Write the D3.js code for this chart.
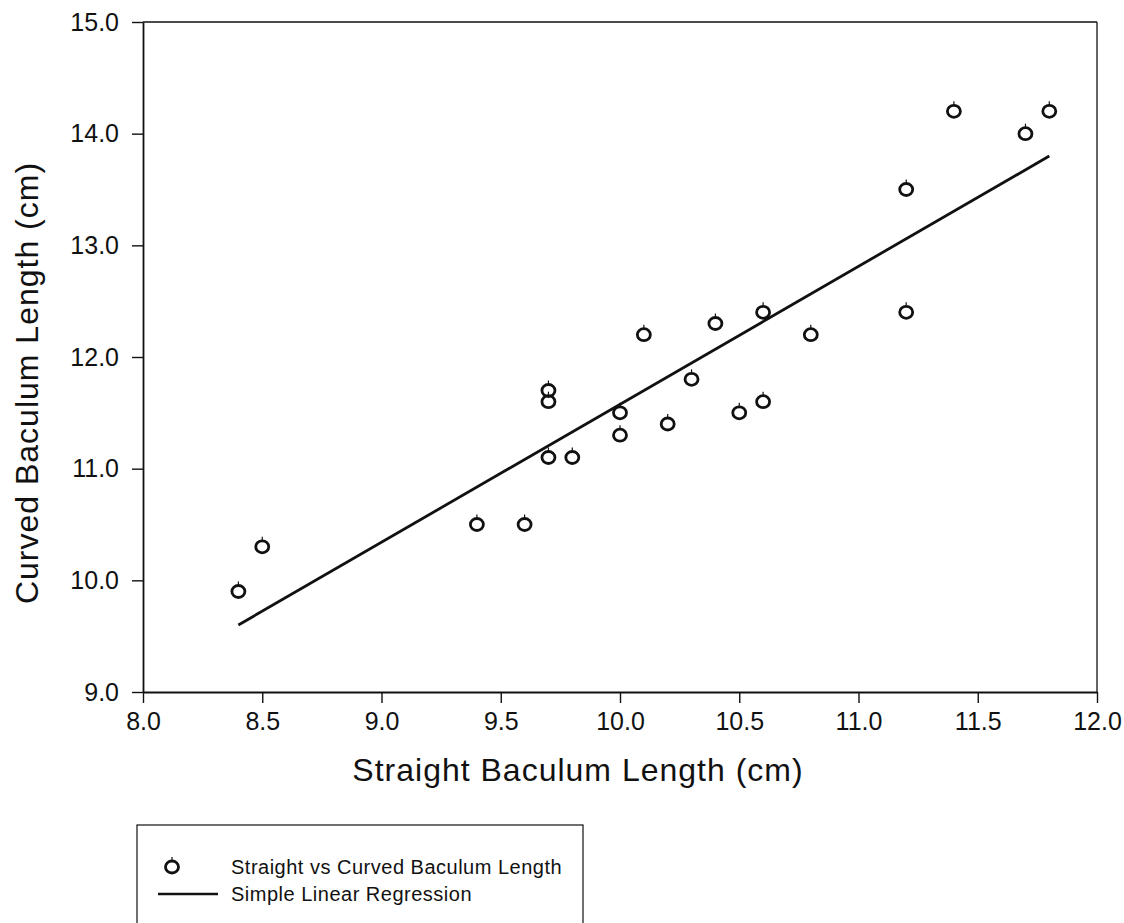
<!DOCTYPE html>
<html>
<head>
<meta charset="utf-8">
<script src="https://cdn.jsdelivr.net/npm/d3@7"></script>
<style>
  html, body { margin: 0; padding: 0; background: #fff; }
  svg { display: block; }
  text { font-family: "Liberation Sans", Arial, sans-serif; fill: #111; }
</style>
</head>
<body>
<svg id="chart" width="1124" height="923"></svg>
<script>
// ---- data ----
const straightLength = [8.4, 8.5, 9.4, 9.6, 9.7, 9.7, 9.7, 9.8, 10.0, 10.0, 10.1, 10.2, 10.3, 10.4, 10.5, 10.6, 10.6, 10.8, 11.2, 11.2, 11.4, 11.7, 11.8];
const curvedLength   = [9.9, 10.3, 10.5, 10.5, 11.7, 11.6, 11.1, 11.1, 11.5, 11.3, 12.2, 11.4, 11.8, 12.3, 11.5, 12.4, 11.6, 12.2, 13.5, 12.4, 14.2, 14.0, 14.2];
const regressionX = [8.4, 11.8];
const regressionY = [9.6, 13.8];
const xTickValues = [8.0, 8.5, 9.0, 9.5, 10.0, 10.5, 11.0, 11.5, 12.0];
const yTickValues = [9.0, 10.0, 11.0, 12.0, 13.0, 14.0, 15.0];
const xTitle = "Straight Baculum Length (cm)";
const yTitle = "Curved Baculum Length (cm)";
const legendLabels = ["Straight vs Curved Baculum Length", "Simple Linear Regression"];

// ---- layout ----
const svg = d3.select("#chart");
const pLeft = 143, pRight = 1097, pTop = 22, pBottom = 692;
const x = d3.scaleLinear().domain([8, 12]).range([pLeft, pRight]);
const y = d3.scaleLinear().domain([9, 15]).range([pBottom, pTop]);
const fmt = d3.format(".1f");

// frame (top & right thin lines)
svg.append("line").attr("x1", pLeft).attr("x2", pRight).attr("y1", pTop).attr("y2", pTop)
  .attr("stroke", "#111").attr("stroke-width", 1.3);
svg.append("line").attr("x1", pRight).attr("x2", pRight).attr("y1", pTop).attr("y2", pBottom)
  .attr("stroke", "#111").attr("stroke-width", 1.3);

// axes
const xAxis = svg.append("g").attr("transform", `translate(0,${pBottom})`)
  .call(d3.axisBottom(x).tickValues(xTickValues).tickFormat(fmt).tickSize(11).tickPadding(9).tickSizeOuter(0));
const yAxis = svg.append("g").attr("transform", `translate(${pLeft},0)`)
  .call(d3.axisLeft(y).tickValues(yTickValues).tickFormat(fmt).tickSize(11).tickPadding(13).tickSizeOuter(0));
[xAxis, yAxis].forEach(g => {
  g.select(".domain").attr("stroke", "#111").attr("stroke-width", 1.8);
  g.selectAll(".tick line").attr("stroke", "#111").attr("stroke-width", 1.4);
  g.selectAll(".tick text").attr("font-size", 25).attr("fill", "#111")
    .attr("font-family", "'Liberation Sans', Arial, sans-serif");
});

// axis titles
svg.append("text").attr("x", 578).attr("y", 781)
  .attr("text-anchor", "middle").attr("font-size", 32).attr("letter-spacing", 1)
  .text(xTitle);
svg.append("text").attr("transform", `translate(38,383) rotate(-90)`)
  .attr("text-anchor", "middle").attr("font-size", 32).attr("letter-spacing", 1)
  .text(yTitle);

// regression line
const regData = regressionX.map((v, i) => [v, regressionY[i]]);
svg.append("path").datum(regData)
  .attr("d", d3.line().x(d => x(d[0])).y(d => y(d[1])))
  .attr("fill", "none").attr("stroke", "#111").attr("stroke-width", 2.8);

// marker glyph
function marker(g) {
  g.append("ellipse").attr("rx", 6.5).attr("ry", 6).attr("fill", "none")
    .attr("stroke", "#111").attr("stroke-width", 2.8);
  g.append("line").attr("x1", 0).attr("x2", 0).attr("y1", -6).attr("y2", -10)
    .attr("stroke", "#111").attr("stroke-width", 1.2);
}

const pts = straightLength.map((v, i) => [v, curvedLength[i]]);
svg.append("g").selectAll("g").data(pts).join("g")
  .attr("transform", d => `translate(${x(d[0])},${y(d[1])})`)
  .each(function () { marker(d3.select(this)); });

// legend
const lg = svg.append("g");
lg.append("rect").attr("x", 137).attr("y", 825).attr("width", 446).attr("height", 130)
  .attr("fill", "none").attr("stroke", "#111").attr("stroke-width", 1.2);
const m = lg.append("g").attr("transform", "translate(172,867)");
marker(m);
lg.append("text").attr("x", 231).attr("y", 867).attr("dy", "0.35em")
  .attr("font-size", 20).attr("letter-spacing", 0.5).text(legendLabels[0]);
lg.append("line").attr("x1", 158).attr("x2", 218).attr("y1", 894).attr("y2", 894)
  .attr("stroke", "#111").attr("stroke-width", 2.6);
lg.append("text").attr("x", 231).attr("y", 894).attr("dy", "0.35em")
  .attr("font-size", 20).attr("letter-spacing", 0.5).text(legendLabels[1]);
</script>
</body>
</html>
